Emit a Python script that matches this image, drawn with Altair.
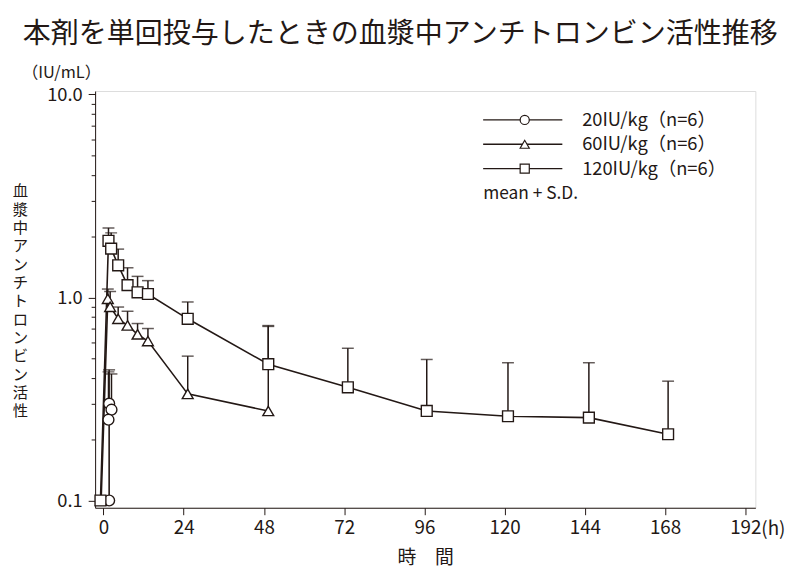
import altair as alt
import pandas as pd

INK = "#231815"
JP = "Noto Sans CJK JP"

title_text = "本剤を単回投与したときの血漿中アンチトロンビン活性推移"
y_title_chars = list("血漿中アンチトロンビン活性")
x_title = "時　間"
unit_text = "（IU/mL）"
hour_text = "(h)"
note_text = "mean + S.D."

series_names = ["20IU/kg（n=6）", "60IU/kg（n=6）", "120IU/kg（n=6）"]
shapes = ["circle", "triangle-up", "square"]

# 20 IU/kg
t20 = [1.7, 1.7, 2.4, 1.5]
v20 = [0.10, 0.30, 0.28, 0.25]
sd20 = [None, 0.44, 0.42, 0.43]

# 60 IU/kg
t60 = [-0.7, 1.3, 2.0, 4.4, 7.2, 10.2, 13.3, 25.2, 49.3]
v60 = [0.10, 0.985, 0.90, 0.785, 0.728, 0.658, 0.61, 0.335, 0.276]
sd60 = [None, 1.10, 1.07, 0.897, 0.855, 0.744, 0.703, 0.514, 0.72]

# 120 IU/kg
t120 = [-0.9, 1.5, 2.3, 4.4, 7.2, 10.2, 13.3, 25.2, 49.3, 73.1, 96.7, 121.0, 145.2, 168.9]
v120 = [0.10, 1.90, 1.74, 1.44, 1.15, 1.06, 1.04, 0.785, 0.469, 0.361, 0.276, 0.260, 0.256, 0.212]
sd120 = [None, 2.20, 2.08, 1.73, 1.40, 1.27, 1.21, 0.95, 0.727, 0.562, 0.495, 0.477, 0.477, 0.387]

x_ticks = [0, 24, 48, 72, 96, 120, 144, 168, 192]
y_major = [0.1, 1, 10]
y_minor = [0.2, 0.3, 0.4, 0.5, 0.6, 0.7, 0.8, 0.9, 2, 3, 4, 5, 6, 7, 8, 9]

rows = []
for name, ts, vs, sds in zip(series_names, [t20, t60, t120], [v20, v60, v120], [sd20, sd60, sd120]):
    for i, (t, v, s) in enumerate(zip(ts, vs, sds)):
        rows.append({"series": name, "t": t, "v": v, "sd": s, "idx": i})
df = pd.DataFrame(rows)

x_scale = alt.Scale(domain=[-2.5, 195], nice=False, zero=False)
y_scale = alt.Scale(type="log", domain=[0.0921, 10.39], nice=False)

x_axis = alt.Axis(
    values=x_ticks, title=x_title, grid=False, tickSize=7, labelPadding=4,
    labelFontSize=19, labelFont=JP, labelColor=INK, titleFont=JP, titleFontSize=19,
    titleFontWeight="normal", titleColor=INK, titleY=50, titleBaseline="middle",
    domainColor=INK, tickColor=INK, labelFlush=False,
)
y_axis = alt.Axis(
    values=sorted(y_major + y_minor), grid=False,
    labelExpr="indexof([0.1, 1, 10], datum.value) >= 0 ? format(datum.value, '.1f') : ''",
    tickSize={"condition": {"test": "indexof([0.1, 1, 10], datum.value) >= 0", "value": 7}, "value": 4},
    labelPadding=6, labelOverlap=False, labelFontSize=18.5, labelFont=JP, labelColor=INK,
    title=y_title_chars, titleAngle=0, titleX=-76, titleY=101, titleAlign="center",
    titleBaseline="middle", titleLineHeight=18.5, titleFont=JP, titleFontSize=15.5,
    titleFontWeight="normal", titleColor=INK, domainColor=INK, tickColor=INK,
)

X = alt.X("t:Q", scale=x_scale, axis=x_axis)
shape_enc = alt.Shape("series:N", scale=alt.Scale(domain=series_names, range=shapes), legend=None)

base = alt.Chart(df)
lines = base.mark_line(color=INK, strokeWidth=1.6).encode(
    x=X, y=alt.Y("v:Q", scale=y_scale, axis=y_axis), detail="series:N", order="idx:Q"
)
bars = base.transform_filter("isValid(datum.sd)").mark_rule(color=INK, strokeWidth=1.5).encode(
    x=X, y=alt.Y("v:Q", scale=y_scale, axis=y_axis), y2="sd:Q"
)
caps = base.transform_filter("isValid(datum.sd)").mark_tick(
    orient="horizontal", size=12, thickness=1.5, color=INK
).encode(x=X, y=alt.Y("sd:Q", scale=y_scale, axis=y_axis))
points = base.mark_point(
    filled=True, fill="white", stroke=INK, strokeWidth=1.4, opacity=1, fillOpacity=1, size=120
).encode(x=X, y=alt.Y("v:Q", scale=y_scale, axis=y_axis), shape=shape_enc)

main = alt.layer(lines, bars, caps, points)

leg_df = pd.DataFrame({"series": series_names, "row": [0, 1, 2]})
LY = alt.Y("row:O", scale=alt.Scale(type="point", domain=[0, 1, 2], range=[29.2, 78.4], padding=0), axis=None)
leg_base = alt.Chart(leg_df)
leg_lines = leg_base.mark_rule(color=INK, strokeWidth=1.4).encode(x=alt.value(392), x2=alt.value(472), y=LY)
leg_pts = leg_base.mark_point(
    filled=True, fill="white", stroke=INK, strokeWidth=1.2, opacity=1, fillOpacity=1, size=85
).encode(x=alt.value(434), y=LY, shape=shape_enc)
leg_text = leg_base.mark_text(align="left", baseline="middle", fontSize=18.5, font=JP, color=INK).encode(
    x=alt.value(492), y=LY, text="series:N"
)
legend = alt.layer(leg_lines, leg_pts, leg_text)

def label(txt, x, y, size, align="left"):
    return alt.Chart(pd.DataFrame({"t": [txt]})).mark_text(
        align=align, baseline="middle", fontSize=size, font=JP, color=INK
    ).encode(x=alt.value(x), y=alt.value(y), text="t:N")

notes = alt.layer(
    label(title_text, -73, -57, 28.3),
    label(unit_text, -34, -18.5, 16.5, "center"),
    label(hour_text, 673, 443, 19),
    label(note_text, 392, 104, 17.5),
)

chart = alt.layer(main, legend, notes).resolve_scale(y="independent").properties(
    width=667, height=421,
    autosize=alt.AutoSizeParams(type="none"),
    padding={"left": 88, "top": 81, "right": 36, "bottom": 60},
).configure_view(stroke=None).configure(background="white")

chart.save("out.html", embed_options={"renderer": "svg", "actions": False})
